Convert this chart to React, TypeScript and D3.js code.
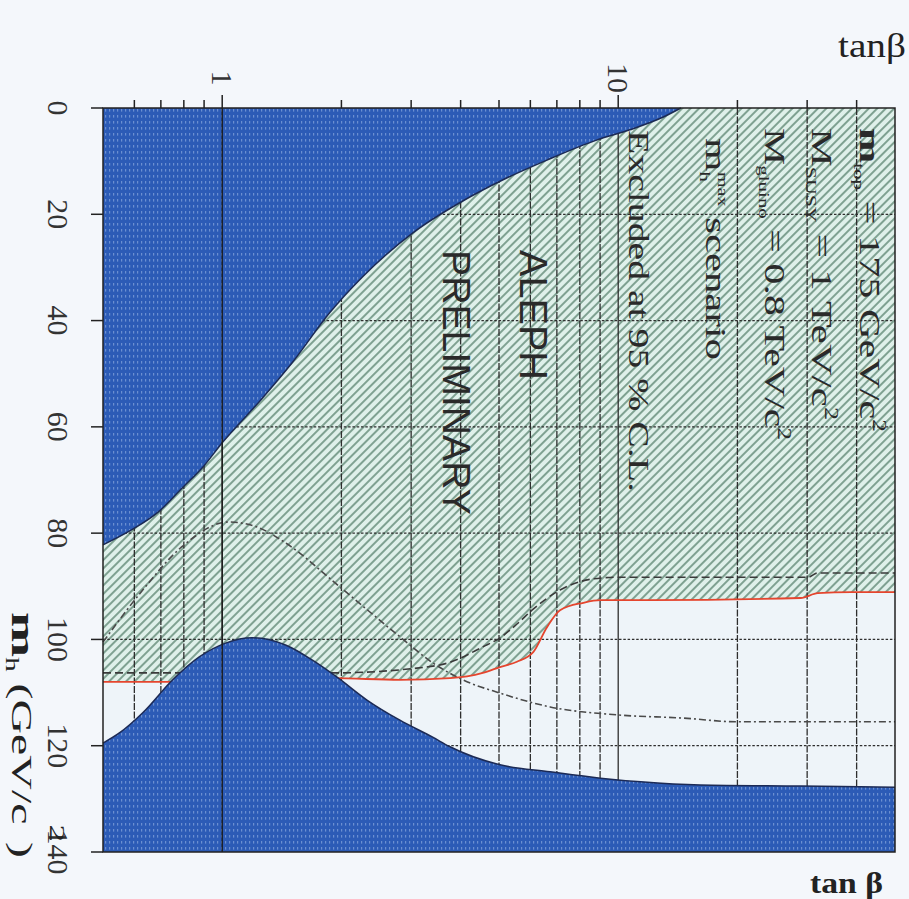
import React from 'react';
import * as d3 from 'd3';

// tan(beta) vs m_h exclusion (ALEPH, m_h-max scenario), drawn rotated as in the original figure
const tanbGrid = [0.6, 0.7, 0.8, 0.9, 1, 2, 3, 4, 5, 6, 7, 8, 9, 10, 20, 30, 40];
const tanbLabels = [1, 10];
const mhTicks = [0, 20, 40, 60, 80, 100, 120, 140];
const mhGrid = [20, 40, 60, 80, 100, 120];

// theoretically inaccessible regions
const upperTheory: [number, number][] = [
  [0.5, 82.2], [0.59, 79.4], [0.69, 76.0], [0.79, 71.6], [0.9, 67.3], [1.0, 63.0], [1.25, 55],
  [1.5, 48], [1.87, 38.5], [2.26, 31.8], [3.03, 23.5], [4.05, 17.5], [5.12, 13.5], [6.61, 9.8],
  [8.85, 6.0], [10.7, 4.1], [13.0, 1.7], [14.4, 0],
];
const lowerTheory: [number, number][] = [
  [0.5, 119.5], [0.55, 117.6], [0.63, 113.8], [0.75, 107.6], [0.875, 103.3], [1.02, 100.7],
  [1.19, 99.7], [1.45, 101.1], [1.69, 103.9], [1.95, 107.1], [2.32, 111.4], [2.81, 115.2],
  [3.4, 118.4], [3.76, 120.2], [5.03, 123.6], [6.73, 124.9], [9.02, 126.1], [11.4, 126.8],
  [16.1, 127.4], [28.9, 127.6], [50, 127.8],
];
// 95% CL limits
const observed: [number, number][] = [
  [0.5, 108], [0.72, 108], [1.0, 107.8], [1.9, 107.3], [2.81, 107.6], [3.76, 107.3],
  [4.55, 106.3], [5.03, 105.2], [5.55, 104.2], [6.1, 102.4], [6.61, 97.7], [7.13, 94.5],
  [8.16, 93.1], [9.01, 92.6], [12.06, 92.6], [28.9, 92.2], [31.9, 91.3], [38.7, 91.1], [50, 91.1],
];
const expected: [number, number][] = [
  [0.5, 106.3], [0.72, 106.3], [1.9, 106.3], [3.1, 105.4], [3.76, 104.3], [4.55, 101.4],
  [5.03, 99.7], [5.55, 97.1], [6.1, 94.3], [7.13, 90.7], [8.65, 88.6], [9.95, 88.3],
  [30.1, 88.3], [31.9, 87.5], [50, 87.5],
];
const dashDot: [number, number][] = [
  [0.5, 100.5], [0.63, 90.7], [0.79, 82.6], [1.04, 77.9], [1.22, 78.8], [1.45, 81.9],
  [1.98, 90.1], [2.81, 99.5], [3.4, 104.4], [4.05, 107.6], [5.03, 110.1], [6.73, 112.7],
  [9.95, 114.2], [14.6, 114.8], [20, 115.5], [50, 115.5],
];

const W = 909;
const H = 899;
const serif = "'Liberation Serif', 'Times New Roman', serif";
const sans = "'Liberation Sans', Arial, sans-serif";

const App: React.FC = () => {
  const x = d3.scaleLog().domain([0.5, 50]).range([103, 895]);
  const y = d3.scaleLinear().domain([0, 140]).range([108, 852]);
  const top = y(0);
  const bottom = y(140);

  const line = d3.line<[number, number]>().x(d => x(d[0])).y(d => y(d[1])).curve(d3.curveMonotoneX);
  const areaUp = d3.area<[number, number]>().x(d => x(d[0])).y0(top).y1(d => y(d[1])).curve(d3.curveMonotoneX);
  const areaDown = d3.area<[number, number]>().x(d => x(d[0])).y0(bottom).y1(d => y(d[1])).curve(d3.curveMonotoneX);

  const rot = (px: number, py: number) => `translate(${px},${py}) rotate(90)`;

  return (
    <svg width={W} height={H} style={{ position: 'absolute', left: 0, top: 0, background: '#f4f7fb' }}>
      <defs>
        <pattern id="hatch" patternUnits="userSpaceOnUse" width={6} height={6} patternTransform="rotate(45)">
          <rect width={6} height={6} fill="#dff0ea" />
          <line x1={1} y1={0} x2={1} y2={6} stroke="#56806c" strokeWidth={1.4} />
        </pattern>
        <pattern id="blueTex" patternUnits="userSpaceOnUse" width={4} height={6}>
          <rect width={4} height={6} fill="#2c5bb6" />
          <rect x={1} y={1} width={1.2} height={2.6} fill="#a9c3ec" opacity={0.5} />
        </pattern>
      </defs>

      {/* plot background */}
      <rect x={x(0.5)} y={top} width={x(50) - x(0.5)} height={bottom - top} fill="#eef4f9" />

      {/* excluded (hatched) region */}
      <path d={areaUp(observed) ?? ''} fill="url(#hatch)" />

      {/* grid */}
      {tanbGrid.map(t => (
        <line key={`v${t}`} x1={x(t)} x2={x(t)} y1={top} y2={bottom}
          stroke="#2e2e2e" strokeWidth={1.3} strokeDasharray={t === 1 || t === 10 ? undefined : '7,1.5'} />
      ))}
      {mhGrid.map(m => (
        <line key={`h${m}`} x1={x(0.5)} x2={x(50)} y1={y(m)} y2={y(m)}
          stroke="#2e2e2e" strokeWidth={1.3} strokeDasharray="2.5,1.8" />
      ))}

      {/* limit curves */}
      <path d={line(expected) ?? ''} fill="none" stroke="#3a3a3a" strokeWidth={1.6} strokeDasharray="8,4" />
      <path d={line(dashDot) ?? ''} fill="none" stroke="#4a4a4a" strokeWidth={1.6} strokeDasharray="7,3,2,3" />
      <path d={line(observed) ?? ''} fill="none" stroke="#e5452e" strokeWidth={1.8} />

      {/* theoretically inaccessible regions */}
      <path d={areaUp(upperTheory) ?? ''} fill="url(#blueTex)" />
      <path d={areaDown(lowerTheory) ?? ''} fill="url(#blueTex)" />
      <path d={line(upperTheory) ?? ''} fill="none" stroke="#1c2a55" strokeWidth={1.5} />
      <path d={line(lowerTheory) ?? ''} fill="none" stroke="#1c2a55" strokeWidth={1.5} />
      <line x1={x(1)} x2={x(1)} y1={top} y2={bottom} stroke="#1a1a1a" strokeWidth={1.4} />

      {/* frame and ticks */}
      <rect x={x(0.5)} y={top} width={x(50) - x(0.5)} height={bottom - top} fill="none" stroke="#222" strokeWidth={1.5} />
      {mhTicks.map(m => (
        <line key={`lt${m}`} x1={x(0.5) - 12} x2={x(0.5)} y1={y(m)} y2={y(m)} stroke="#222" strokeWidth={1.5} />
      ))}
      {tanbGrid.map(t => (
        <line key={`tt${t}`} x1={x(t)} x2={x(t)} y1={top - (tanbLabels.includes(t) ? 13 : 8)} y2={top}
          stroke="#222" strokeWidth={1.5} />
      ))}

      {/* tick labels (rotated like the original figure) */}
      {mhTicks.map(m => (
        <text key={`ll${m}`} transform={rot(48, y(m))} textAnchor="middle" fontFamily={serif} fontSize={30} fill="#333">
          {m}
        </text>
      ))}
      {tanbLabels.map(t => (
        <text key={`tl${t}`} transform={rot(x(t) - 10, 78)} textAnchor="middle" fontFamily={serif} fontSize={30} fill="#333">
          {t}
        </text>
      ))}

      {/* axis titles */}
      <text x={838} y={57} fontFamily={serif} fontSize={33} fill="#222" textLength={68} lengthAdjust="spacingAndGlyphs">tanβ</text>
      <text x={810} y={893} fontFamily={serif} fontSize={29} fontWeight="bold" fill="#222" textLength={73} lengthAdjust="spacingAndGlyphs">tan β</text>
      <text transform={rot(12, 612)} fontFamily={serif} fill="#222" textLength={246} lengthAdjust="spacingAndGlyphs">
        <tspan fontWeight="bold" fontSize={34}>m</tspan>
        <tspan fontSize={18} dy={6}>h</tspan>
        <tspan fontSize={30} dy={-6}> (GeV/c</tspan>
        <tspan fontSize={22} dy={-38}>2</tspan>
        <tspan fontSize={30} dy={38}>)</tspan>
      </text>

      {/* annotations */}
      <text transform={rot(860, 128)} fontFamily={serif} fontSize={30} fill="#2a2a2a" textLength={304} lengthAdjust="spacingAndGlyphs">
        <tspan fontWeight="bold">m</tspan>
        <tspan fontSize={15} dy={6}>top</tspan>
        <tspan dy={-6}> = 175 GeV/c</tspan>
        <tspan fontSize={18} dy={-13}>2</tspan>
      </text>
      <text transform={rot(812, 128)} fontFamily={serif} fontSize={30} fill="#2a2a2a" textLength={292} lengthAdjust="spacingAndGlyphs">
        <tspan>M</tspan>
        <tspan fontSize={15} dy={6}>SUSY</tspan>
        <tspan dy={-6}> = 1 TeV/c</tspan>
        <tspan fontSize={18} dy={-13}>2</tspan>
      </text>
      <text transform={rot(765, 128)} fontFamily={serif} fontSize={30} fill="#2a2a2a" textLength={312} lengthAdjust="spacingAndGlyphs">
        <tspan>M</tspan>
        <tspan fontSize={15} dy={6}>gluino</tspan>
        <tspan dy={-6}> = 0.8 TeV/c</tspan>
        <tspan fontSize={18} dy={-13}>2</tspan>
      </text>
      <text transform={rot(706, 138)} fontFamily={serif} fontSize={30} fill="#2a2a2a" textLength={222} lengthAdjust="spacingAndGlyphs">
        <tspan>m</tspan>
        <tspan fontSize={15} dy={6}>h</tspan>
        <tspan fontSize={14} dy={-18} dx={-7}>max</tspan>
        <tspan dy={12}> scenario</tspan>
      </text>
      <text transform={rot(629, 130)} fontFamily={serif} fontSize={30} fill="#2a2a2a" textLength={362} lengthAdjust="spacingAndGlyphs">
        Excluded at 95 % C.L.
      </text>
      <text transform={rot(520, 250)} fontFamily={sans} fontSize={38} fill="#2a2a2a" textLength={130} lengthAdjust="spacingAndGlyphs">
        ALEPH
      </text>
      <text transform={rot(443, 250)} fontFamily={sans} fontSize={38} fill="#2a2a2a" textLength={265} lengthAdjust="spacingAndGlyphs">
        PRELIMINARY
      </text>
    </svg>
  );
};

export default App;
